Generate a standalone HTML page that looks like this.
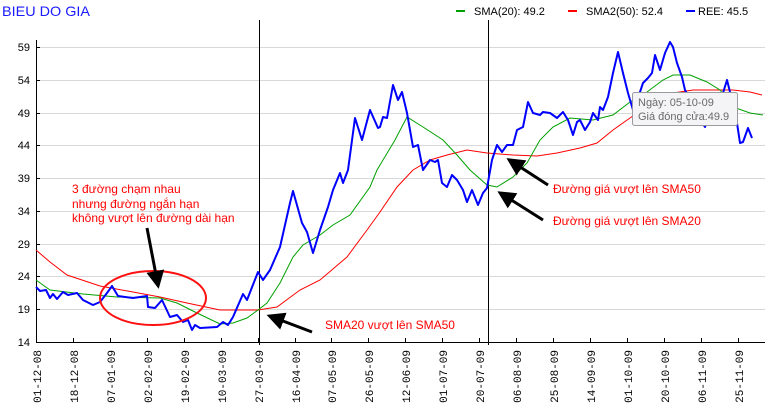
<!DOCTYPE html>
<html><head><meta charset="utf-8"><style>
body{margin:0;background:#fff;}
svg{display:block;font-family:"Liberation Sans",sans-serif;}
</style></head><body>
<svg width="770" height="409" xmlns="http://www.w3.org/2000/svg">
<rect width="770" height="409" fill="#fff"/>
<text x="2" y="16" font-size="14" fill="#1a1aff" textLength="88" lengthAdjust="spacingAndGlyphs">BIEU DO GIA</text>
<g font-size="11" fill="#000">
<rect x="456" y="10" width="9" height="2" fill="#00a000"/><text x="474" y="15">SMA(20): 49.2</text>
<rect x="568" y="10" width="9" height="2" fill="#ff0000"/><text x="586" y="15">SMA2(50): 52.4</text>
<rect x="686" y="10" width="9" height="2" fill="#0000ff"/><text x="698" y="15">REE: 45.5</text>
</g>
<g stroke="#d8d8d8" stroke-width="1">
<line x1="36" x2="765" y1="47.5" y2="47.5"/><line x1="36" x2="765" y1="80.5" y2="80.5"/><line x1="36" x2="765" y1="113.5" y2="113.5"/><line x1="36" x2="765" y1="145.5" y2="145.5"/><line x1="36" x2="765" y1="178.5" y2="178.5"/><line x1="36" x2="765" y1="211.5" y2="211.5"/><line x1="36" x2="765" y1="244.5" y2="244.5"/><line x1="36" x2="765" y1="276.5" y2="276.5"/><line x1="36" x2="765" y1="309.5" y2="309.5"/>
</g>
<g font-size="11" fill="#000" text-anchor="end">
<text x="30" y="51">59</text><text x="30" y="84">54</text><text x="30" y="117">49</text><text x="30" y="149">44</text><text x="30" y="182">39</text><text x="30" y="215">34</text><text x="30" y="248">29</text><text x="30" y="280">24</text><text x="30" y="313">19</text><text x="30" y="346">14</text>
</g>
<line x1="36.5" y1="40" x2="36.5" y2="342" stroke="#000"/>
<line x1="36" y1="342.5" x2="765" y2="342.5" stroke="#000"/>
<g stroke="#000">
<line x1="36" x2="40" y1="47.5" y2="47.5"/><line x1="36" x2="40" y1="80.5" y2="80.5"/><line x1="36" x2="40" y1="113.5" y2="113.5"/><line x1="36" x2="40" y1="145.5" y2="145.5"/><line x1="36" x2="40" y1="178.5" y2="178.5"/><line x1="36" x2="40" y1="211.5" y2="211.5"/><line x1="36" x2="40" y1="244.5" y2="244.5"/><line x1="36" x2="40" y1="276.5" y2="276.5"/><line x1="36" x2="40" y1="309.5" y2="309.5"/>
</g>
<line x1="259.5" y1="20" x2="259.5" y2="345" stroke="#000"/>
<line x1="488.5" y1="20" x2="488.5" y2="345" stroke="#000"/>
<g stroke="#000">
<line x1="36.5" x2="36.5" y1="338" y2="342"/><line x1="73.5" x2="73.5" y1="338" y2="342"/><line x1="110.5" x2="110.5" y1="338" y2="342"/><line x1="147.5" x2="147.5" y1="338" y2="342"/><line x1="184.5" x2="184.5" y1="338" y2="342"/><line x1="221.5" x2="221.5" y1="338" y2="342"/><line x1="258.5" x2="258.5" y1="338" y2="342"/><line x1="295.5" x2="295.5" y1="338" y2="342"/><line x1="331.5" x2="331.5" y1="338" y2="342"/><line x1="368.5" x2="368.5" y1="338" y2="342"/><line x1="405.5" x2="405.5" y1="338" y2="342"/><line x1="442.5" x2="442.5" y1="338" y2="342"/><line x1="479.5" x2="479.5" y1="338" y2="342"/><line x1="516.5" x2="516.5" y1="338" y2="342"/><line x1="553.5" x2="553.5" y1="338" y2="342"/><line x1="590.5" x2="590.5" y1="338" y2="342"/><line x1="627.5" x2="627.5" y1="338" y2="342"/><line x1="664.5" x2="664.5" y1="338" y2="342"/><line x1="701.5" x2="701.5" y1="338" y2="342"/><line x1="738.5" x2="738.5" y1="338" y2="342"/>
</g>
<g font-family="'Liberation Mono',monospace" font-size="11" fill="#000" text-anchor="end">
<text transform="translate(41,350) rotate(-90)">01-12-08</text>
<text transform="translate(78,350) rotate(-90)">18-12-08</text>
<text transform="translate(115,350) rotate(-90)">07-01-09</text>
<text transform="translate(152,350) rotate(-90)">02-02-09</text>
<text transform="translate(189,350) rotate(-90)">19-02-09</text>
<text transform="translate(226,350) rotate(-90)">10-03-09</text>
<text transform="translate(263,350) rotate(-90)">27-03-09</text>
<text transform="translate(300,350) rotate(-90)">16-04-09</text>
<text transform="translate(336,350) rotate(-90)">07-05-09</text>
<text transform="translate(373,350) rotate(-90)">26-05-09</text>
<text transform="translate(410,350) rotate(-90)">12-06-09</text>
<text transform="translate(447,350) rotate(-90)">01-07-09</text>
<text transform="translate(484,350) rotate(-90)">20-07-09</text>
<text transform="translate(521,350) rotate(-90)">06-08-09</text>
<text transform="translate(558,350) rotate(-90)">25-08-09</text>
<text transform="translate(595,350) rotate(-90)">14-09-09</text>
<text transform="translate(632,350) rotate(-90)">01-10-09</text>
<text transform="translate(669,350) rotate(-90)">20-10-09</text>
<text transform="translate(706,350) rotate(-90)">06-11-09</text>
<text transform="translate(743,350) rotate(-90)">25-11-09</text>
</g>
<polyline fill="none" stroke="#ff0000" stroke-width="1" points="36,250 50,262 67,275 100,286 133,292 160,297 187,303 220,310 258,310 277,307 300,290 320,280 347,257 367,230 380,212 397,187 413,170 430,160 447,155 467,150 487,153 513,155 537,156 557,153 580,148 597,143 613,130 630,118 653,102 673,93 693,90 713,90 733,90 750,92 762,95"/>
<polyline fill="none" stroke="#00a000" stroke-width="1" points="36,280 50,290 83,294 117,297 160,298 177,303 197,313 220,324 233,323 247,318 258,310 267,303 280,283 293,257 303,245 320,235 333,225 350,215 370,187 377,170 395,140 407,117 423,127 443,140 457,155 470,170 487,185 497,187 513,177 527,163 540,140 553,127 570,118 593,120 613,115 630,102 647,92 663,80 673,75 690,75 707,82 720,90 733,107 750,113 763,115"/>
<polyline fill="none" stroke="#0000ff" stroke-width="2" stroke-linejoin="round" points="36,287 40,291 46,290 50,298 53,294 57,299 63,292 68,295 77,293 83,300 93,305 100,302 107,293 112,286 118,296 133,298 147,296 148,307 155,308 162,300 170,317 177,315 183,322 188,320 192,330 195,325 200,328 217,327 223,322 228,325 233,317 243,294 247,300 258,272 263,280 270,270 280,247 290,203 293,191 302,223 307,232 313,253 320,230 328,207 333,190 340,173 343,183 348,170 355,118 362,140 370,110 378,128 380,127 383,117 387,118 393,85 398,100 402,92 407,113 413,147 418,145 423,170 430,160 435,162 438,160 442,183 447,187 452,175 457,180 463,190 467,202 472,190 478,205 483,193 487,188 492,160 497,145 502,152 507,145 513,145 517,130 523,127 528,102 533,113 540,115 543,112 550,113 557,118 563,112 568,120 573,135 577,122 580,120 585,130 590,122 593,113 598,120 600,107 603,110 608,97 613,73 618,52 623,73 628,93 633,110 638,98 643,83 648,78 652,73 655,55 660,70 665,53 670,42 673,47 677,63 682,77 685,90 690,100 697,115 705,127 713,103 723,93 727,80 730,92 733,107 737,123 740,143 743,142 748,128 752,138"/>
<rect x="632.5" y="92.5" width="105" height="33" rx="2" fill="#f4f4f6" stroke="#9a9aa0"/>
<g font-size="11" fill="#6a6a6a"><text x="638" y="106">Ngày: 05-10-09</text><text x="638" y="120">Giá đóng cửa:49.9</text></g>
<ellipse cx="153" cy="298" rx="53" ry="27" fill="none" stroke="#ff1010" stroke-width="2"/>
<g font-size="12" fill="#ff0000">
<text x="72" y="193">3 đường chạm nhau</text>
<text x="72" y="208">nhưng đường ngắn hạn</text>
<text x="72" y="222">không vượt lên đường dài hạn</text>
<text x="325" y="329">SMA20 vượt lên SMA50</text>
<text x="553" y="193">Đường giá vượt lên SMA50</text>
<text x="553" y="225">Đường giá vượt lên SMA20</text>
</g>
<defs><marker id="ah" markerWidth="6" markerHeight="6" refX="3" refY="3" orient="auto" markerUnits="strokeWidth"><path d="M0,0 L6,3 L0,6 Z" fill="#000"/></marker></defs>
<g stroke="#000" stroke-width="3" marker-end="url(#ah)">
<line x1="147" y1="228" x2="157" y2="280"/>
<line x1="312" y1="332" x2="275" y2="318"/>
<line x1="548" y1="185" x2="514" y2="163"/>
<line x1="543" y1="220" x2="505" y2="196"/>
</g>
</svg>
</body></html>
